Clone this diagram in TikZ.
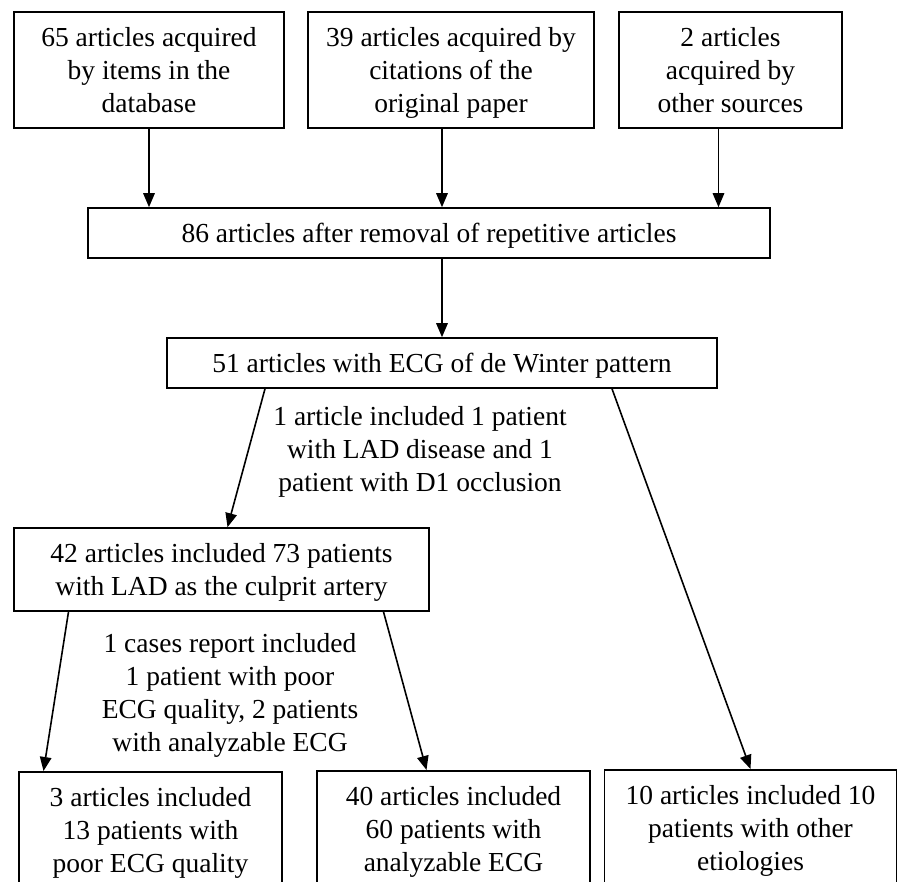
\documentclass[tikz,border=0pt]{standalone}
\usepackage{fontspec}
\setmainfont{Liberation Serif}
\usetikzlibrary{arrows.meta,positioning,calc}

% text of a box: first baseline 35pt under the top, 15pt kept under the last one
\newcommand{\boxlines}[1]{\rule{0pt}{35pt}#1\rule[-15pt]{0pt}{15pt}}
\newcommand{\notelines}[1]{\rule{0pt}{24.5pt}#1\rule[-6.5pt]{0pt}{6.5pt}}

\begin{document}
\begin{tikzpicture}[
  x=1pt, y=-1pt,
  box/.style={draw, line width=1.6pt, align=center, inner sep=0pt},
  note/.style={align=center, inner sep=0pt},
  arr/.style={-{Triangle[length=14pt,width=11.5pt]}, line width=1.6pt},
  every node/.style={font=\fontsize{27.5}{33}\selectfont}]

\useasboundingbox (0,0) rectangle (898,882);

% ================= the three sources ======================================
\node[box, minimum width=270] (src1) at (149,70)
     {\boxlines{65 articles acquired\\by items in the\\database}};
\node[box, minimum width=286] (src2) at (451,70)
     {\boxlines{39 articles acquired by\\citations of the\\original paper}};
\node[box, minimum width=223] (src3) at (730.5,70)
     {\boxlines{2 articles\\acquired by\\other sources}};

% ================= screening ==============================================
\node[box, minimum width=682] (dedup) at (429,233)
     {\boxlines{86 articles after removal of repetitive articles}};
\node[box, minimum width=550] (winter) at (442,363)
     {\boxlines{51 articles with ECG of de Winter pattern}};
\node[box, minimum width=415] (lad) at (221.5,569.5)
     {\boxlines{42 articles included 73 patients\\with LAD as the culprit artery}};

% ================= the three outcomes (cut by the page) ===================
\node[box, anchor=north, minimum width=263] (poor) at (150.5,771)
     {\boxlines{3 articles included\\13 patients with\\poor ECG quality}};
\node[box, anchor=north, minimum width=273] (good) at (453.5,770)
     {\boxlines{40 articles included\\60 patients with\\analyzable ECG}};
\node[box, anchor=north, minimum width=292] (other) at (750.5,769)
     {\boxlines{10 articles included 10\\patients with other\\etiologies}};

% ================= notes ==================================================
\node[note] (note1) at (420,450)
     {\notelines{1 article included 1 patient\\with LAD disease and 1\\patient with D1 occlusion}};
\node[note] (note2) at (230,692.5)
     {\notelines{1 cases report included\\1 patient with poor\\ECG quality, 2 patients\\with analyzable ECG}};

% ================= arrows =================================================
\draw[arr] (src1.south) -- (src1.south |- dedup.north);
\draw[arr] (winter.north |- src2.south) -- (winter.north |- dedup.north);
\draw[arr] ([xshift=-12pt]src3.south) -- ([xshift=-12pt]src3.south |- dedup.north);
\draw[arr] (winter.north |- dedup.south) -- (winter.north);

\draw[arr] ([xshift=-177pt]winter.south) -- ([xshift=6pt]lad.north);
\draw[arr] ([xshift=170pt]winter.south) -- (other.north);
\draw[arr] ([xshift=-153pt]lad.south) -- ([xshift=-107pt]poor.north);
\draw[arr] ([xshift=162pt]lad.south) -- ([xshift=-27pt]good.north);

\end{tikzpicture}
\end{document}
